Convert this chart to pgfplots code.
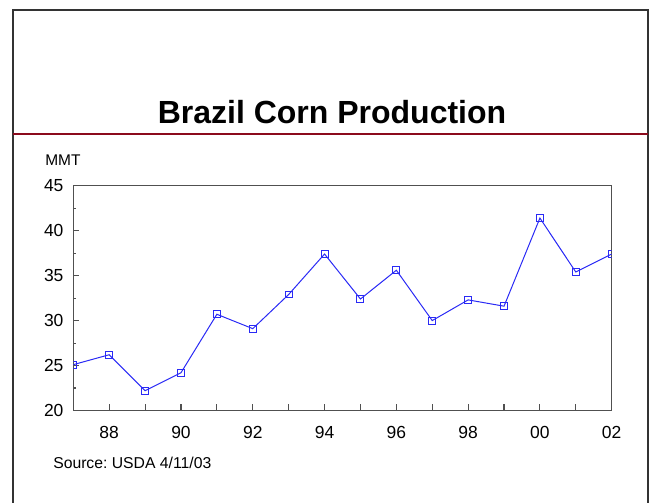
\documentclass[border=0pt]{standalone}
\usepackage{pgfplots}
\pgfplotsset{compat=1.18}
\usepackage{fontspec}
\setmainfont{Liberation Sans}
\frenchspacing
\definecolor{framegray}{HTML}{333333}
\definecolor{titlered}{HTML}{8B0A1C}
\definecolor{axgray}{HTML}{505050}
\definecolor{lineblue}{HTML}{2A2AF5}
\begin{document}
\begin{tikzpicture}[x=0.75pt,y=0.75pt]
\useasboundingbox (0,0) rectangle (650,503);
% slide frame
\draw[framegray,line width=1.5pt] (12.5,0)--(12.5,493)--(647.5,493)--(647.5,0);
% red rule
\draw[titlered,line width=2pt] (12.5,369)--(647.5,369);
% title
\node[anchor=base,inner sep=0pt,font=\fontsize{24}{28}\selectfont\bfseries] at (332,379) {Brazil Corn Production};
% MMT
\node[anchor=base west,inner sep=0pt,font=\fontsize{11.6}{14}\selectfont] at (45,337) {MMT};
% source
\node[anchor=base west,inner sep=0pt,font=\fontsize{11.8}{14}\selectfont] at (53,34) {Source: USDA 4/11/03};
\coordinate (O) at (73.3,92.5);
\begin{axis}[
  at={(O)}, anchor=south west,
  width=403.8pt, height=168.6pt, scale only axis,
  xmin=87, xmax=102, ymin=20, ymax=45,
  xtick={87,88,...,102},
  xticklabels={,88,,90,,92,,94,,96,,98,,00,,02},
  ytick={20,25,...,45},
  minor ytick={22.5,27.5,...,42.5},
  tick align=inside,
  major tick length=4.5pt,
  minor tick length=2.2pt,
  axis line style={axgray,line width=0.9pt},
  tick style={axgray,line width=0.8pt},
  x tick label style={anchor=north,inner sep=0pt,yshift=-11.4pt},
  y tick label style={anchor=east,inner sep=0pt,xshift=-7.2pt},
  ticklabel style={font=\fontsize{13.1}{15}\selectfont},
  /pgf/number format/assume math mode=true,
  xtick pos=bottom, ytick pos=left,
  clip marker paths=true,
]
\addplot[lineblue,line width=0.75pt,mark=square,mark size=2.6pt,mark options={line width=0.75pt}] coordinates {
(87,25.1) (88,26.2) (89,22.2) (90,24.2) (91,30.7) (92,29.1) (93,32.9) (94,37.4)
(95,32.4) (96,35.6) (97,30.0) (98,32.3) (99,31.6) (100,41.4) (101,35.4) (102,37.4)
};
\end{axis}
\end{tikzpicture}
\end{document}
